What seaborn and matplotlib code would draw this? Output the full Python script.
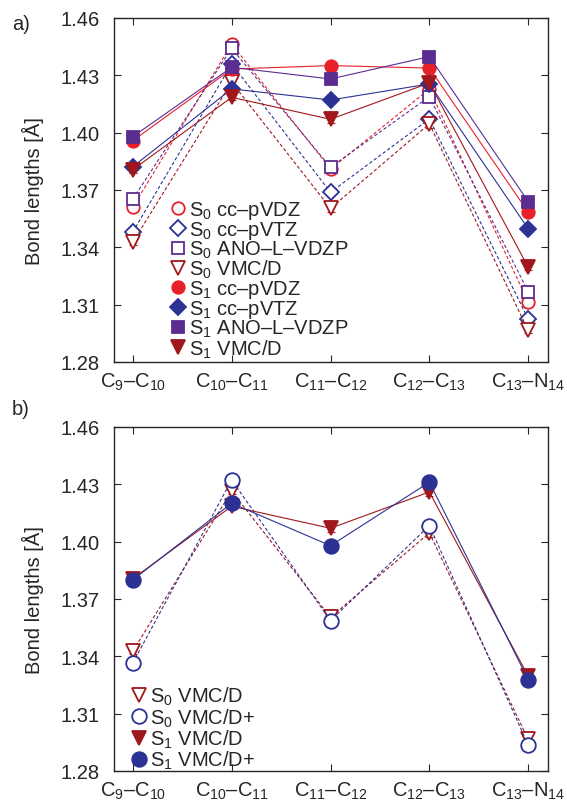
import numpy as np
import pandas as pd
import matplotlib
matplotlib.use("Agg")
import matplotlib.pyplot as plt
import seaborn as sns
from matplotlib.lines import Line2D

# ===============================
# Data
# ===============================
bonds = ["C$_9$–C$_{10}$", "C$_{10}$–C$_{11}$", "C$_{11}$–C$_{12}$",
         "C$_{12}$–C$_{13}$", "C$_{13}$–N$_{14}$"]

s0_ccpvdz = [1.361, 1.4464, 1.381, 1.4228, 1.3112]
s0_ccpvtz = [1.348, 1.436, 1.3688, 1.4072, 1.3025]
s0_ano = [1.3653, 1.4441, 1.3819, 1.4188, 1.3168]
s0_vmcd = [1.3427, 1.4264, 1.3604, 1.4046, 1.2965]
s1_ccpvdz = [1.3958, 1.4333, 1.4351, 1.4338, 1.3584]
s1_ccpvtz = [1.3822, 1.4229, 1.4171, 1.4255, 1.3497]
s1_ano = [1.3979, 1.4342, 1.4281, 1.4398, 1.3639]
s1_vmcd = [1.3806, 1.4185, 1.4070, 1.4260, 1.3296]
s0_vmcdp = [1.3365, 1.4323, 1.3587, 1.4084, 1.2936]
s1_vmcdp = [1.3800, 1.4201, 1.3979, 1.4311, 1.3278]
vmc_err = [0.0015, 0.0015, 0.0020, 0.0020, 0.0015]

yticks = [1.28, 1.31, 1.34, 1.37, 1.40, 1.43, 1.46]

RED = "#e8202a"
BLUE = "#2b3293"
PURPLE = "#5a2d91"
DRED = "#a0171c"

# label, values, color, marker, filled, dashed, size, has error
panel_a = [
    ("S$_0$ cc–pVDZ", s0_ccpvdz, RED, "o", False, True, 9, False),
    ("S$_0$ cc–pVTZ", s0_ccpvtz, BLUE, "D", False, True, 8, False),
    ("S$_0$ ANO–L–VDZP", s0_ano, PURPLE, "s", False, True, 9, False),
    ("S$_0$ VMC/D", s0_vmcd, DRED, "v", False, True, 10, True),
    ("S$_1$ cc–pVDZ", s1_ccpvdz, RED, "o", True, False, 9, False),
    ("S$_1$ cc–pVTZ", s1_ccpvtz, BLUE, "D", True, False, 8, False),
    ("S$_1$ ANO–L–VDZP", s1_ano, PURPLE, "s", True, False, 9, False),
    ("S$_1$ VMC/D", s1_vmcd, DRED, "v", True, False, 10, True),
]
panel_b = [
    ("S$_0$ VMC/D", s0_vmcd, DRED, "v", False, True, 10, True),
    ("S$_0$ VMC/D+", s0_vmcdp, BLUE, "o", False, True, 10.5, False),
    ("S$_1$ VMC/D", s1_vmcd, DRED, "v", True, False, 10, True),
    ("S$_1$ VMC/D+", s1_vmcdp, BLUE, "o", True, False, 10.5, False),
]

# ===============================
# Style
# ===============================
sns.set_style("ticks")
plt.rcParams['font.family'] = ['Liberation Sans', 'DejaVu Sans']
plt.rcParams['mathtext.fontset'] = 'custom'
plt.rcParams['mathtext.rm'] = 'Liberation Sans'
plt.rcParams['mathtext.it'] = 'Liberation Sans'
plt.rcParams['axes.linewidth'] = 1.0

FS = 14.5
pos = np.arange(len(bonds))

fig = plt.figure(figsize=(5.67, 8.04), dpi=100)
W, H = 567, 804
ax_a = fig.add_axes([114 / W, 1 - 363 / H, 434 / W, 344 / H])
ax_b = fig.add_axes([114 / W, 1 - 772 / H, 434 / W, 344 / H])


def draw_panel(ax, series):
    handles = []
    for label, vals, col, mk, filled, dashed, ms, err in series:
        df = pd.DataFrame({"bond": pos, "length": vals})
        sns.lineplot(
            data=df, x="bond", y="length", ax=ax,
            color=col, linewidth=0.8,
            linestyle=(0, (3, 2)) if dashed else "-",
            marker=mk, markersize=ms,
            markerfacecolor=col if filled else "white",
            markeredgecolor=col, markeredgewidth=1.3,
            zorder=3,
        )
        if err:
            ax.errorbar(pos, vals, yerr=vmc_err, fmt="none", ecolor=col,
                        elinewidth=0.8, capsize=3, capthick=0.8, zorder=2)
        handles.append(Line2D([], [], linestyle="none", marker=mk,
                              markersize=ms, color=col,
                              markerfacecolor=col if filled else "none",
                              markeredgewidth=1.3, label=label))
    ax.set_xlim(-0.19, 4.2)
    ax.set_ylim(1.28, 1.46)
    ax.set_yticks(yticks)
    ax.set_yticklabels([f"{t:.2f}" for t in yticks])
    ax.set_xticks(pos)
    ax.set_xticklabels(bonds)
    ax.tick_params(direction="in", top=True, right=True, length=5,
                   labelsize=FS)
    ax.tick_params(axis="y", pad=10)
    ax.tick_params(axis="x", pad=6)
    ax.set_xlabel("")
    ax.set_ylabel("Bond lengths [Å]", fontsize=FS, labelpad=12)
    return handles


h_a = draw_panel(ax_a, panel_a)
h_b = draw_panel(ax_b, panel_b)

ax_a.legend(handles=h_a, loc="upper left", bbox_to_anchor=(0.129, 0.475),
            frameon=False, fontsize=FS, handlelength=0.8, handletextpad=0.15,
            labelspacing=-0.1, borderpad=0.0, borderaxespad=0.0)
ax_b.legend(handles=h_b, loc="upper left", bbox_to_anchor=(0.039, 0.25),
            frameon=False, fontsize=FS, handlelength=0.8, handletextpad=0.15,
            labelspacing=-0.05, borderpad=0.0, borderaxespad=0.0)

fig.text(21 / W, 1 - 25 / H, "a)", fontsize=FS, ha="center", va="center")
fig.text(21 / W, 1 - 410 / H, "b)", fontsize=FS, ha="center", va="center")

plt.savefig("out.png", dpi=100)
plt.close()
